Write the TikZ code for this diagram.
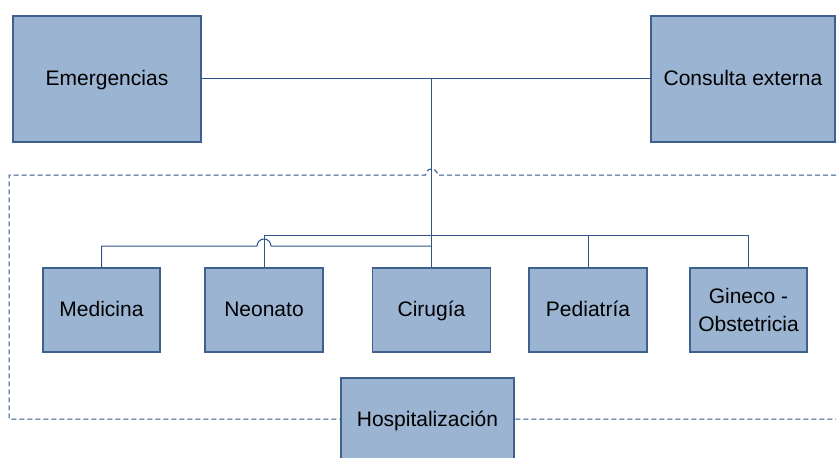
\documentclass[tikz,border=0pt]{standalone}
\usepackage{fontspec}
\setmainfont{Liberation Sans}
\definecolor{boxfill}{RGB}{155,180,210}
\definecolor{boxline}{RGB}{62,96,140}
\definecolor{wire}{RGB}{45,85,135}
\begin{document}
\begin{tikzpicture}[x=1pt,y=-1pt,
  unit/.style={draw=boxline, line width=1.1pt, fill=boxfill, inner sep=0pt,
    align=center, text=black, font=\fontsize{21}{28}\selectfont},
  oneline/.style={unit, text height=16pt, text depth=3pt},
  wireline/.style={draw=wire, line width=1pt},
  frame/.style={draw=wire, line width=1pt, dash pattern=on 5pt off 3pt}]
\useasboundingbox (0,0) rectangle (836,458);

% dashed frame around the inpatient area, with a hop over the trunk
\draw[frame] (836,175) -- (437.5,175) arc[start angle=0, end angle=180, radius=6pt]
  -- (9,175) -- (9,419) -- (836,419);

% top level
\node[oneline, minimum width=188pt, minimum height=126pt] (emer) at (107,79) {Emergencias};
\node[oneline, minimum width=184pt, minimum height=126pt] (cext) at (743,79) {Consulta externa};

% services
\node[oneline, minimum width=117pt, minimum height=84pt] (med) at (101.5,310) {Medicina};
\node[oneline, minimum width=118pt, minimum height=84pt] (neo) at (264,310) {Neonato};
\node[oneline, minimum width=118pt, minimum height=84pt] (cir) at (431.5,310) {Cirugía};
\node[oneline, minimum width=118pt, minimum height=84pt] (ped) at (588,310) {Pediatría};
\node[unit, minimum width=117pt, minimum height=84pt] (gin) at (748.5,310) {Gineco -\\Obstetricia};
\node[oneline, minimum width=173pt, minimum height=84pt] (hosp) at (427.5,420) {Hospitalización};

% connectors
\coordinate (trunk) at (431.5,78);
\draw[wireline] (emer.east |- trunk) -- (cext.west |- trunk);
\draw[wireline] (trunk) -- (cir.north);
\draw[wireline] (med.north) |- (257,246) arc[start angle=180, end angle=0, radius=7pt]
  -- (431.5,246);
\draw[wireline] (neo.north) -- ++(0,-32) -| (gin.north);
\draw[wireline] (ped.north) -- ++(0,-32);
\end{tikzpicture}
\end{document}
